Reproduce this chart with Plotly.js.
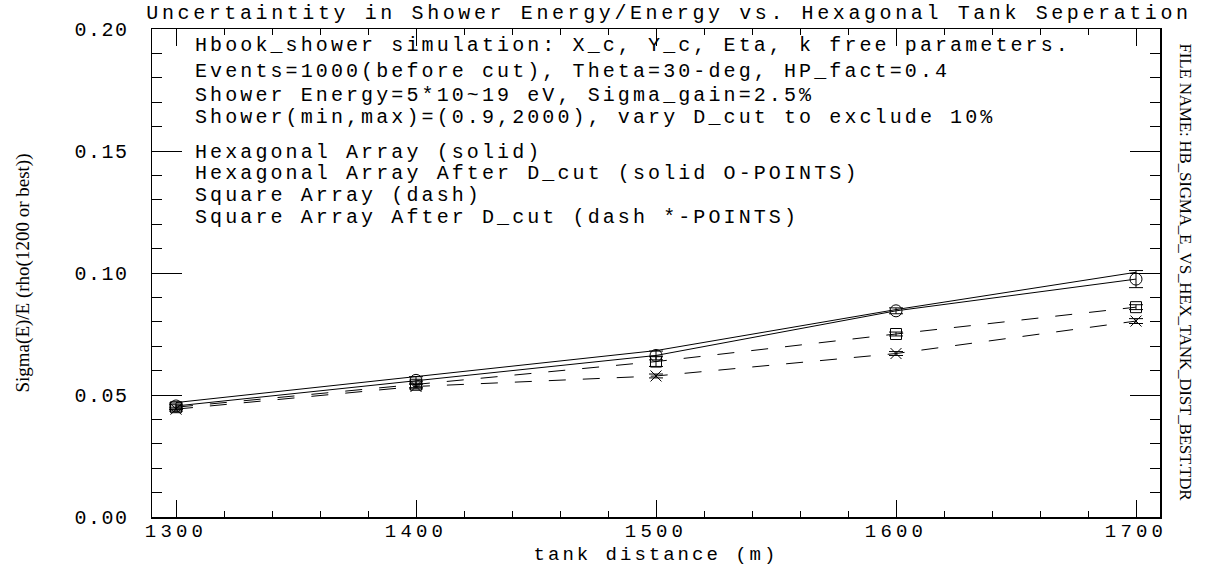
<!DOCTYPE html>
<html>
<head>
<meta charset="utf-8">
<script src="https://cdn.plot.ly/plotly-3.0.1.min.js"></script>
<style>
  html, body { margin: 0; padding: 0; background: #fff; }
  #chart { width: 1205px; height: 569px; }
  .gtitle { letter-spacing: 3.6px; }
  .annotation-text { letter-spacing: 3.1px; }
  .annotation[data-index="8"] .annotation-text { letter-spacing: -0.2px; }
  .xtick text { letter-spacing: 4.2px; }
  .ytick text { letter-spacing: 1.5px; }
  .xtitle { letter-spacing: 3px; }
  .ytitle { letter-spacing: 0px; }
</style>
</head>
<body>
<div id="chart"></div>
<script>
// ---- data ----
const tankDistance = [1300, 1400, 1500, 1600, 1700];

const hexArray      = [0.0469, 0.0575, 0.0682, 0.0850, 0.1003];
const hexAfterCut   = [0.0455, 0.0560, 0.0662, 0.0845, 0.0975];
const hexAfterErr   = [0.0012, 0.0015, 0.0018, 0.0012, 0.0035];
const sqArray       = [0.0450, 0.0542, 0.0637, 0.0750, 0.0860];
const sqArrayErr    = [0.0010, 0.0012, 0.0020, 0.0008, 0.0010];
const sqAfterCut    = [0.0442, 0.0535, 0.0578, 0.0670, 0.0803];
const sqAfterErr    = [0.0008, 0.0010, 0.0008, 0.0008, 0.0010];

const infoLines = [
  "Hbook_shower simulation: X_c, Y_c, Eta, k free parameters.",
  "Events=1000(before cut), Theta=30-deg, HP_fact=0.4",
  "Shower Energy=5*10~19 eV, Sigma_gain=2.5%",
  "Shower(min,max)=(0.9,2000), vary D_cut to exclude 10%",
  "Hexagonal Array (solid)",
  "Hexagonal Array After D_cut (solid O-POINTS)",
  "Square Array (dash)",
  "Square Array After D_cut (dash *-POINTS)"
];
const infoY = [45, 71, 96, 118, 152, 174, 196, 218];   // pixel rows of text lines
const fileName = "FILE NAME: HB_SIGMA_E_VS_HEX_TANK_DIST_BEST.TDR";

// ---- layout geometry ----
const W = 1205, H = 569;
const M = {l: 152, r: 45, t: 29, b: 52};
const plotH = H - M.t - M.b;
const plotW = W - M.l - M.r;

const mono = "Liberation Mono, Courier New, monospace";
const serif = "Liberation Serif, Times New Roman, serif";

const traces = [
  { x: tankDistance, y: hexArray, type: 'scatter', mode: 'lines',
    name: 'Hexagonal Array', line: {color: '#000', width: 1}},
  { x: tankDistance, y: hexAfterCut, type: 'scatter', mode: 'lines+markers',
    name: 'Hexagonal Array After D_cut', line: {color: '#000', width: 1},
    marker: {symbol: 'circle-open', size: 12, color: '#000', line: {width: 1, color: '#000'}},
    error_y: {type: 'data', array: hexAfterErr, visible: true, color: '#000', thickness: 1, width: 7}},
  { x: tankDistance, y: sqArray, type: 'scatter', mode: 'lines+markers',
    name: 'Square Array', line: {color: '#000', width: 1, dash: '17px,17px'},
    marker: {symbol: 'square-open', size: 11, color: '#000', line: {width: 1, color: '#000'}},
    error_y: {type: 'data', array: sqArrayErr, visible: true, color: '#000', thickness: 1, width: 7}},
  { x: tankDistance, y: sqAfterCut, type: 'scatter', mode: 'lines+markers',
    name: 'Square Array After D_cut', line: {color: '#000', width: 1, dash: '17px,17px'},
    marker: {symbol: 'x-thin-open', size: 11, color: '#000', line: {width: 1, color: '#000'}},
    error_y: {type: 'data', array: sqAfterErr, visible: true, color: '#000', thickness: 1, width: 7}}
];

const annotations = infoLines.map((t, i) => ({
  text: t, xref: 'paper', yref: 'paper',
  x: (193 - M.l) / plotW, y: (H - M.b - infoY[i]) / plotH,
  xanchor: 'left', yanchor: 'middle', showarrow: false,
  font: {family: mono, size: 20, color: '#000'}
}));
annotations.push({
  text: fileName, xref: 'paper', yref: 'paper',
  x: (1186 - M.l) / plotW, y: (H - M.b - 272) / plotH,
  xanchor: 'center', yanchor: 'middle', textangle: 90, showarrow: false,
  font: {family: serif, size: 17, color: '#000'}
});

const layout = {
  width: W, height: H,
  margin: M,
  paper_bgcolor: '#fff', plot_bgcolor: '#fff',
  showlegend: false,
  title: {text: 'Uncertaintity in Shower Energy/Energy vs. Hexagonal Tank Seperation',
          x: 669 / W, xanchor: 'center', y: 1 - 12 / H, yanchor: 'middle',
          font: {family: mono, size: 20, color: '#000'}},
  xaxis: {
    range: [1290, 1710], tick0: 1300, dtick: 100,
    ticks: 'inside', ticklen: 17, tickwidth: 1, tickcolor: '#000',
    minor: {dtick: 20, tick0: 1300, ticks: 'inside', ticklen: 6, tickwidth: 1, tickcolor: '#000'},
    showline: true, linecolor: '#000', linewidth: 1.5, mirror: 'ticks',
    showgrid: false, zeroline: false,
    tickfont: {family: mono, size: 19, color: '#000'},
    ticklabelstandoff: -4,
    title: {text: 'tank distance (m)', font: {family: mono, size: 19, color: '#000'}, standoff: 4}
  },
  yaxis: {
    range: [0, 0.2], tick0: 0, dtick: 0.05, tickformat: '.2f',
    ticks: 'inside', ticklen: 30, tickwidth: 1, tickcolor: '#000',
    minor: {dtick: 0.01, tick0: 0, ticks: 'inside', ticklen: 10, tickwidth: 1, tickcolor: '#000'},
    showline: true, linecolor: '#000', linewidth: 1.5, mirror: 'ticks',
    showgrid: false, zeroline: false,
    tickfont: {family: mono, size: 20, color: '#000'},
    ticklabelstandoff: 18,
    title: {text: 'Sigma(E)/E (rho(1200 or best))', font: {family: serif, size: 19, color: '#000'}, standoff: 40}
  },
  annotations: annotations
};

Plotly.newPlot('chart', traces, layout, {displayModeBar: false, staticPlot: true});
</script>
</body>
</html>
